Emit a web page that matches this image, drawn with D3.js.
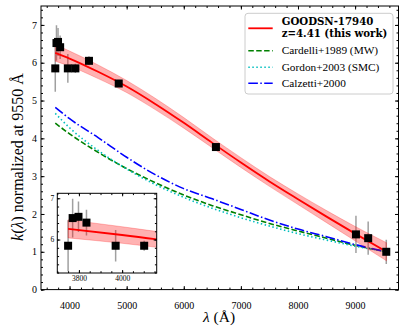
<!DOCTYPE html>
<html lang="en">
<head>
<meta charset="utf-8">
<script src="https://cdn.jsdelivr.net/npm/d3@7"></script>
<style>
  body { margin: 0; background: #fff; }
  text { font-family: "Liberation Serif", "DejaVu Serif", serif; fill: #000; }
  .tick line { stroke: #000; }
</style>
</head>
<body>
<script>
"use strict";

// emission lines used for the curve (rest wavelength, Å)
const lineWave = [3750, 3771, 3798, 3835, 3970, 4102, 4340, 4861, 6563, 9015, 9229, 9546];
const lineK    = [5.85, 6.52, 6.55, 6.41, 5.85, 5.85, 6.05, 5.45, 3.77, 1.46, 1.36, 1.00];
const lineErr  = [0.62, 0.47, 0.37, 0.31, 0.38, 0.12, 0.12, 0.06, 0.03, 0.49, 0.44, 0.32];

// fitted curve + 1 sigma band
const fitWave = [3750, 4000, 4500, 5000, 5500, 6000, 6500, 7000, 7500, 8000, 8500, 9000, 9550];
const fitK    = [6.26, 6.11, 5.76, 5.37, 4.91, 4.41, 3.88, 3.36, 2.86, 2.39, 1.93, 1.48, 1.00];
const fitErr  = [0.22, 0.20, 0.18, 0.16, 0.15, 0.14, 0.13, 0.13, 0.13, 0.14, 0.16, 0.19, 0.24];

// literature curves
const modelWave  = [3750, 4000, 4500, 5000, 5500, 6000, 6500, 7000, 7500, 8000, 8500, 9000, 9550];
const cardelliK  = [4.40, 4.12, 3.63, 3.20, 2.83, 2.50, 2.22, 1.98, 1.75, 1.55, 1.36, 1.17, 1.00];
const gordonK    = [4.66, 4.28, 3.68, 3.19, 2.78, 2.44, 2.15, 1.90, 1.68, 1.48, 1.31, 1.15, 1.00];
const calzettiK  = [4.82, 4.52, 4.02, 3.50, 3.04, 2.67, 2.40, 2.12, 1.84, 1.60, 1.40, 1.19, 1.00];

const xTicks = [4000, 5000, 6000, 7000, 8000, 9000];
const yTicks = [0, 1, 2, 3, 4, 5, 6, 7];
const insetXTicks = [3800, 4000];
const insetYTicks = [6, 7];

const legendLabels = ["Cardelli+1989 (MW)", "Gordon+2003 (SMC)", "Calzetti+2000"];

const W = 411, H = 329;
const svg = d3.select("body").append("svg").attr("width", W).attr("height", H);

const x = d3.scaleLinear().domain([3500, 9760]).range([41, 398.5]);
const y = d3.scaleLinear().domain([0, 7.5]).range([289.6, 6]);

const pts = lineWave.map((w, i) => ({w: w, k: lineK[i], e: lineErr[i]}));
const fit = fitWave.map((w, i) => ({w: w, k: fitK[i], e: fitErr[i]}));

svg.append("defs").append("clipPath").attr("id", "mainclip")
  .append("rect").attr("x", 41).attr("y", 6).attr("width", 357.5).attr("height", 283.6);

function drawData(g, xs, ys) {
  // error bars
  g.selectAll(".eb").data(pts).enter().append("line")
    .attr("x1", d => xs(d.w)).attr("x2", d => xs(d.w))
    .attr("y1", d => ys(d.k - d.e)).attr("y2", d => ys(d.k + d.e))
    .attr("stroke", "#a0a0a0").attr("stroke-width", 1.5);

  let band = d3.area().curve(d3.curveMonotoneX)
    .x(d => xs(d.w)).y0(d => ys(d.k - d.e)).y1(d => ys(d.k + d.e));
  g.append("path").datum(fit).attr("d", band)
    .attr("fill", "#ff0000").attr("fill-opacity", 0.3)
    .attr("stroke", "#ff0000").attr("stroke-opacity", 0.3).attr("stroke-width", 0.8);

  let ln = d3.line().curve(d3.curveMonotoneX).x(d => xs(d.w)).y(d => ys(d.k));
  g.append("path").datum(fit).attr("d", ln)
    .attr("fill", "none").attr("stroke", "#ff0000").attr("stroke-width", 1.8);

  g.selectAll(".pt").data(pts).enter().append("rect")
    .attr("x", d => xs(d.w) - 4).attr("y", d => ys(d.k) - 4)
    .attr("width", 8).attr("height", 8).attr("fill", "#000");
}

// model curves
const models = [
  {k: cardelliK, color: "#008000", dash: "5.5,2.4"},
  {k: gordonK,   color: "#00bfbf", dash: "1.5,2.5"},
  {k: calzettiK, color: "#0000ff", dash: "9.6,2.4,1.5,2.4"}
];
const mg = svg.append("g").attr("clip-path", "url(#mainclip)");
models.forEach(m => {
  let ln = d3.line().curve(d3.curveMonotoneX).x((w) => x(w)).y((w, i) => y(m.k[i]));
  mg.append("path").datum(modelWave).attr("d", ln)
    .attr("fill", "none").attr("stroke", m.color).attr("stroke-width", 1.6)
    .attr("stroke-dasharray", m.dash);
});

drawData(svg.append("g").attr("clip-path", "url(#mainclip)"), x, y);

// axes with inward ticks on all four sides
function range(a, b, s) { let r = []; for (let v = a; v <= b + 1e-9; v += s) r.push(+v.toFixed(4)); return r; }

function ticks(g, sc, orient, pos, major, minor, fmt, fontSize, pad, majLen, minLen) {
  const mk = {bottom: d3.axisBottom, top: d3.axisTop, left: d3.axisLeft, right: d3.axisRight}[orient];
  const tr = (orient === "bottom" || orient === "top") ? `translate(0,${pos})` : `translate(${pos},0)`;
  g.append("g").attr("transform", tr)
    .call(mk(sc).tickValues(minor).tickSize(-minLen).tickFormat(""))
    .call(a => a.select(".domain").remove());
  let ax = g.append("g").attr("transform", tr)
    .call(mk(sc).tickValues(major).tickSize(-majLen).tickPadding(pad).tickFormat(fmt))
    .call(a => a.select(".domain").remove());
  ax.selectAll("text").style("font-size", fontSize + "px").attr("font-family", null);
}

const axg = svg.append("g");
ticks(axg, x, "bottom", 289.6, xTicks, range(3600, 9600, 200), d3.format("d"), 10, 12, 3.5, 2);
ticks(axg, x, "top", 6, xTicks, range(3600, 9600, 200), "", 10, 3, 3.5, 2);
ticks(axg, y, "left", 41, yTicks, range(0, 7.4, 0.2), d3.format("d"), 10, 4, 3.5, 2);
ticks(axg, y, "right", 398.5, yTicks, range(0, 7.4, 0.2), "", 10, 3, 3.5, 2);

svg.append("rect").attr("x", 41).attr("y", 6).attr("width", 357.5).attr("height", 283.6)
  .attr("fill", "none").attr("stroke", "#000").attr("stroke-width", 1);

// axis labels
svg.append("text").attr("x", 219).attr("y", 322).attr("text-anchor", "middle")
  .style("font-size", "15.5px")
  .html('<tspan font-style="italic">λ</tspan> (Å)');
svg.append("text").attr("transform", "translate(23,157) rotate(-90)").attr("text-anchor", "middle")
  .style("font-size", "16px")
  .html('<tspan font-style="italic">k</tspan>(<tspan font-style="italic">λ</tspan>) normalized at 9550 Å');

// inset
const ix = d3.scaleLinear().domain([3700, 4160]).range([57.3, 156.7]);
const iy = d3.scaleLinear().domain([5.19, 7.12]).range([273, 193.3]);
svg.select("defs").append("clipPath").attr("id", "insetclip")
  .append("rect").attr("x", 57.3).attr("y", 193.3).attr("width", 99.4).attr("height", 79.7);
svg.append("rect").attr("x", 57.3).attr("y", 193.3).attr("width", 99.4).attr("height", 79.7).attr("fill", "#fff");
drawData(svg.append("g").attr("clip-path", "url(#insetclip)"), ix, iy);
const ig = svg.append("g");
ticks(ig, ix, "bottom", 273, insetXTicks, range(3700, 4150, 50), d3.format("d"), 7.5, 2.5, 3, 1.8);
ticks(ig, ix, "top", 193.3, insetXTicks, range(3700, 4150, 50), "", 7.5, 2, 3, 1.8);
ticks(ig, iy, "left", 57.3, insetYTicks, range(5.2, 7.1, 0.2), d3.format("d"), 7.5, 3, 3, 1.8);
ticks(ig, iy, "right", 156.7, insetYTicks, range(5.2, 7.1, 0.2), "", 7.5, 2, 3, 1.8);
svg.append("rect").attr("x", 57.3).attr("y", 193.3).attr("width", 99.4).attr("height", 79.7)
  .attr("fill", "none").attr("stroke", "#000").attr("stroke-width", 1);

// legend
const lg = svg.append("g");
lg.append("rect").attr("x", 245).attr("y", 13.3).attr("width", 148).attr("height", 80.7)
  .attr("rx", 3).attr("fill", "#fff").attr("fill-opacity", 0.8)
  .attr("stroke", "#cccccc").attr("stroke-width", 1);
lg.append("line").attr("x1", 248.3).attr("x2", 272.7).attr("y1", 28.3).attr("y2", 28.3)
  .attr("stroke", "#ff0000").attr("stroke-width", 1.8);
lg.append("text").attr("x", 281.7).attr("y", 25.3).style("font-family", "'DejaVu Serif', serif")
  .style("font-size", "10.2px").style("font-weight", "bold")
  .text("GOODSN-17940");
lg.append("text").attr("x", 281.7).attr("y", 37).style("font-family", "'DejaVu Serif', serif")
  .style("font-size", "10.2px").style("font-weight", "bold")
  .text("z=4.41 (this work)");
const legY = [50.7, 67.3, 83.3];
models.forEach((m, i) => {
  lg.append("line").attr("x1", 248.3).attr("x2", 272.7).attr("y1", legY[i]).attr("y2", legY[i])
    .attr("stroke", m.color).attr("stroke-width", 1.6).attr("stroke-dasharray", m.dash);
  lg.append("text").attr("x", 281.7).attr("y", legY[i] + 3.5).style("font-size", "11.3px")
    .text(legendLabels[i]);
});
</script>
</body>
</html>
